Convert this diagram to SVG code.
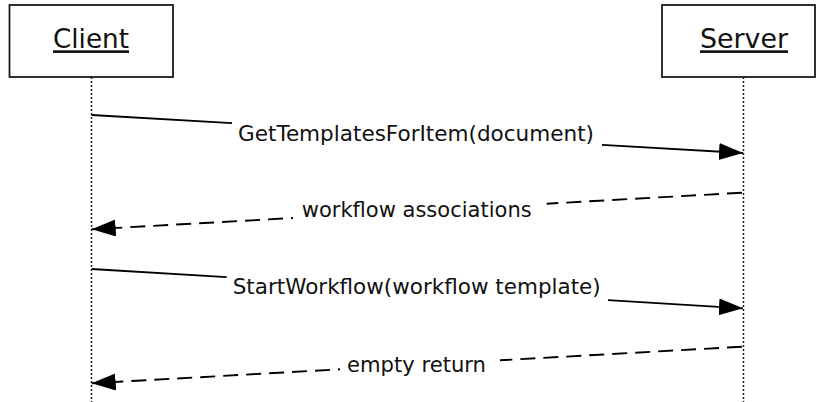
<svg xmlns="http://www.w3.org/2000/svg" width="816" height="402" viewBox="0 0 816 402">
<style>
.box{fill:#fff;stroke:#1a1a1a;stroke-width:1.8}
.life{stroke:#1a1a1a;stroke-width:1.5;stroke-dasharray:2 2;fill:none}
.title{font-family:"DejaVu Sans","Liberation Sans",sans-serif;font-size:26.5px;fill:#111;text-anchor:middle;text-decoration:underline}
.lbl{font-family:"DejaVu Sans","Liberation Sans",sans-serif;font-size:21px;fill:#111;text-anchor:middle}
.msg{stroke:#000;stroke-width:1.8;fill:none}
.ret{stroke:#000;stroke-width:1.9;fill:none;stroke-dasharray:15 8}
</style>
<defs>
<marker id="arr" markerUnits="userSpaceOnUse" markerWidth="26" markerHeight="19" refX="24" refY="8.5" orient="auto" viewBox="0 0 26 19">
<path d="M0,0 L24,8.5 L0,17 z" fill="#000"/>
</marker>
</defs>
<g id="client">
<rect class="box" x="9.5" y="5" width="163.5" height="72"/>
<line class="life" x1="91.5" y1="77" x2="91.5" y2="402"/>
<text class="title" x="91" y="48.3" textLength="76" lengthAdjust="spacingAndGlyphs">Client</text>
</g>
<g id="server">
<rect class="box" x="662" y="5" width="153" height="72"/>
<line class="life" x1="743.5" y1="77" x2="743.5" y2="402"/>
<text class="title" x="744" y="48.3" textLength="88" lengthAdjust="spacingAndGlyphs">Server</text>
</g>
<g id="connectors">
<path class="msg" d="M91.5,115 L232,123.2"/>
<path class="msg" d="M602,144.8 L743,153" marker-end="url(#arr)"/>
<text class="lbl" x="416" y="140.7" textLength="356" lengthAdjust="spacingAndGlyphs">GetTemplatesForItem(document)</text>
<path class="ret" d="M742,192.7 L546.7,203.7"/>
<path class="ret" style="stroke-dashoffset:13" d="M293,218 L91.7,229.3" marker-end="url(#arr)"/>
<text class="lbl" x="416.7" y="217.3" textLength="230" lengthAdjust="spacingAndGlyphs">workflow associations</text>
<path class="msg" d="M91.5,269 L226.7,277.2"/>
<path class="msg" d="M608,300.2 L743,308.3" marker-end="url(#arr)"/>
<text class="lbl" x="416.7" y="294" textLength="368" lengthAdjust="spacingAndGlyphs">StartWorkflow(workflow template)</text>
<path class="ret" d="M742,346.7 L500,360.3"/>
<path class="ret" style="stroke-dashoffset:13" d="M340,369.3 L91.7,383.3" marker-end="url(#arr)"/>
<text class="lbl" x="416.5" y="371.7" textLength="139" lengthAdjust="spacingAndGlyphs">empty return</text>
</g>
</svg>
